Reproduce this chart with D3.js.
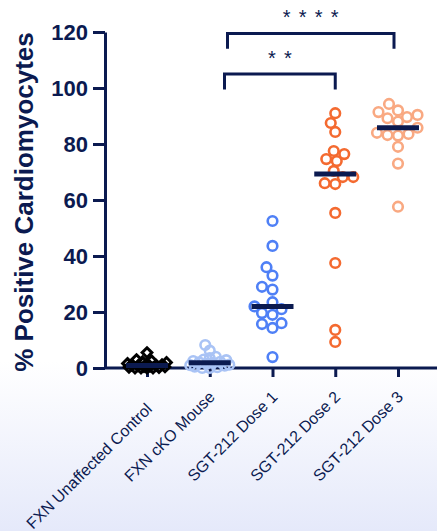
<!DOCTYPE html>
<html>
<head>
<meta charset="utf-8">
<script src="https://cdn.jsdelivr.net/npm/d3@7"></script>
<style>
  body { margin: 0; background: #fff; }
  text { font-family: "Liberation Sans", Arial, sans-serif; }
</style>
</head>
<body>
<svg id="chart"></svg>
<script>
// categories and values
const groups = ["FXN Unaffected Control", "FXN cKO Mouse", "SGT-212 Dose 1", "SGT-212 Dose 2", "SGT-212 Dose 3"];
const ctrlVals = [0, 0, 0, 0, 0.2, 0.3, 0.4, 0.5, 0.6, 0.8, 1.0, 1.0, 1.2, 1.4, 1.6, 2.0, 2.2, 2.6, 3.0, 5.5];
const ckoVals = [0, 0, 0.3, 0.5, 0.8, 1, 1.2, 1.5, 1.8, 2, 2.2, 2.5, 2.8, 3, 3.5, 4, 6.2, 8.2];
const dose1Vals = [52.5, 43.6, 36, 33, 29, 28, 23.5, 22, 21, 19.6, 19, 16, 15.7, 14.3, 3.9];
const dose2Vals = [91, 87.5, 84.3, 77.5, 76.4, 74.6, 73.9, 70.4, 68.2, 68.2, 66, 65.7, 55.4, 37.5, 13.6, 9.3];
const dose3Vals = [94.3, 92, 91.4, 90.4, 89.6, 89.2, 88, 85.8, 84, 83.6, 83.2, 83, 79, 73, 57.6];
const yTicks = [0, 20, 40, 60, 80, 100, 120];
// significance: [from, to, stars, bracket top, bracket foot]
const comparisons = [
  ["SGT-212 Dose 1", "SGT-212 Dose 2", "* *", 105, 99.5],
  ["SGT-212 Dose 1", "SGT-212 Dose 3", "* * * *", 119.5, 114]
];

const seriesVals = [ctrlVals, ckoVals, dose1Vals, dose2Vals, dose3Vals];
const colors = ["#000000", "#a9c3f5", "#4f80f6", "#f46a30", "#f9a982"];
const navy = "#0b1a50";

const width = 437, height = 531;
const svg = d3.select("#chart").attr("width", width).attr("height", height);

// background gradient
const defs = svg.append("defs");
const grad = defs.append("linearGradient").attr("id", "bg").attr("x1", 0).attr("y1", 0).attr("x2", 0).attr("y2", 1);
grad.append("stop").attr("offset", "0.68").attr("stop-color", "#ffffff");
grad.append("stop").attr("offset", "1").attr("stop-color", "#e5e9fa");
svg.append("rect").attr("width", width).attr("height", height).attr("fill", "url(#bg)");

const xScale = d3.scalePoint().domain(groups).range([147, 398]);
const yScale = d3.scaleLinear().domain([0, 120]).range([368, 32]);

// axes
const yAxis = svg.append("g").attr("transform", "translate(105,0)")
  .call(d3.axisLeft(yScale).tickValues(yTicks).tickSize(12).tickPadding(5).tickSizeOuter(0));
yAxis.select(".domain").attr("stroke", navy).attr("stroke-width", 3);
yAxis.selectAll(".tick line").attr("stroke", navy).attr("stroke-width", 3);
yAxis.selectAll("text").attr("fill", navy).attr("font-size", 22).attr("font-weight", "bold")
  .attr("font-family", "Liberation Sans, Arial, sans-serif");

const xAxis = svg.append("g").attr("transform", `translate(0,368)`)
  .call(d3.axisBottom(xScale).tickSize(9).tickSizeOuter(0).tickFormat(""));
xAxis.select(".domain").attr("d", "M105,0H437").attr("stroke", navy).attr("stroke-width", 3);
xAxis.selectAll(".tick line").attr("stroke", navy).attr("stroke-width", 3);

// x labels rotated
svg.append("g").selectAll("text").data(groups).join("text")
  .attr("transform", d => `translate(${xScale(d) + 6},${d === groups[0] ? 410 : 398}) rotate(-45)`)
  .attr("text-anchor", "end")
  .attr("font-size", 16)
  .attr("fill", navy)
  .text(d => d);

// y title
svg.append("text")
  .attr("transform", "translate(33,202) rotate(-90)")
  .attr("text-anchor", "middle")
  .attr("font-size", 26)
  .attr("font-weight", "bold")
  .attr("fill", navy)
  .text("% Positive Cardiomyocytes");

// simple beeswarm placement from values
function swarm(vals, dmin, maxDx) {
  let placed = [];
  vals.slice().sort((a, b) => a - b).forEach(v => {
    let y = yScale(v);
    let best = 0, bestOverlap = Infinity;
    for (let k = 0; k < 80; k++) {
      let cand = (k % 2 === 0 ? 1 : -1) * Math.ceil(k / 2) * 1.5;
      if (Math.abs(cand) > maxDx) break;
      let ok = placed.every(p => (p.dx - cand) ** 2 + (p.y - y) ** 2 >= dmin * dmin);
      if (ok) { best = cand; bestOverlap = 0; break; }
      let near = d3.min(placed, p => (p.dx - cand) ** 2 + (p.y - y) ** 2);
      if (-near < bestOverlap) { bestOverlap = -near; best = cand; }
    }
    placed.push({ v: v, y: y, dx: best });
  });
  return placed;
}

groups.forEach((g, i) => {
  let pts = i === 0 ? swarm(seriesVals[i], 6, 20) : i === 1 ? swarm(seriesVals[i], 7, 20) : swarm(seriesVals[i], 10, 22);
  let cx = xScale(g);
  let layer = svg.append("g");
  if (i === 0) {
    layer.selectAll("path").data(pts).join("path")
      .attr("d", d3.symbol().type(d3.symbolDiamond2).size(60))
      .attr("transform", d => `translate(${cx + d.dx},${d.y})`)
      .attr("fill", "none").attr("stroke", colors[i]).attr("stroke-width", 3);
  } else {
    layer.selectAll("circle").data(pts).join("circle")
      .attr("cx", d => cx + d.dx).attr("cy", d => d.y).attr("r", 4.8)
      .attr("fill", "none").attr("stroke", colors[i]).attr("stroke-width", 2.6);
  }
  // median bar
  let med = d3.median(seriesVals[i]);
  svg.append("line")
    .attr("x1", cx - 21).attr("x2", cx + 21)
    .attr("y1", yScale(med)).attr("y2", yScale(med))
    .attr("stroke", navy).attr("stroke-width", 5);
});

// significance brackets
comparisons.forEach(c => {
  let x1 = xScale(c[0]) - (c[2].length > 3 ? 45 : 48);
  let x2 = xScale(c[1]) + (c[1] === groups[4] ? -4 : 0);
  let yt = yScale(c[3]), yb = yScale(c[4]);
  svg.append("path")
    .attr("d", `M${x1},${yb}V${yt}H${x2}V${yb}`)
    .attr("fill", "none").attr("stroke", navy).attr("stroke-width", 3);
  let stars = c[2].split(" ");
  let mid = (x1 + x2) / 2;
  stars.forEach((s, j) => {
    svg.append("text")
      .attr("x", mid + (j - (stars.length - 1) / 2) * 16)
      .attr("y", yt - 9.5)
      .attr("text-anchor", "middle")
      .attr("font-size", 20)
      .attr("fill", navy)
      .text(s);
  });
});
</script>
</body>
</html>
